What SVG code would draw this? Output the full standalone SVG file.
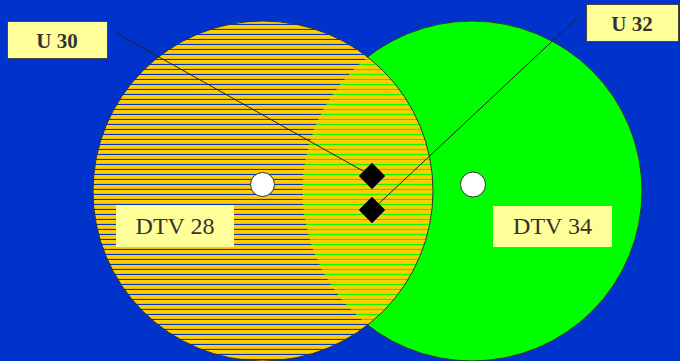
<svg xmlns="http://www.w3.org/2000/svg" width="680" height="361" viewBox="0 0 680 361">
<defs>
<pattern id="hatch" patternUnits="userSpaceOnUse" x="0" y="0" width="10" height="5">
<rect x="0" y="0" width="10" height="3.9" fill="#FFCC00"/>
</pattern>
</defs>
<style>
.lbl{fill:#FFFF99}
.lblb{fill:#FFFF99;stroke:#444;stroke-width:1}
.t{font-family:"Liberation Serif",serif;fill:#333;text-anchor:middle}
.dot{fill:#fff;stroke:#333;stroke-width:1}
.dia{fill:#000;stroke:#333;stroke-width:1}
.ln{stroke:#222;stroke-width:1;fill:none}
</style>
<rect width="680" height="361" fill="#0033CC"/>
<g id="dtv34-area">
<circle cx="472" cy="191" r="170" fill="#00FF00" stroke="#333" stroke-width="1"/>
</g>
<g id="dtv28-area">
<circle cx="263" cy="191" r="170" fill="url(#hatch)" stroke="#333" stroke-width="1"/>
</g>
<g id="dot28"><circle class="dot" cx="262.5" cy="184.5" r="12"/></g>
<g id="dot34"><circle class="dot" cx="473" cy="184.5" r="12.5"/></g>
<g id="connectors">
<line class="ln" x1="116" y1="33" x2="372" y2="176"/>
<line class="ln" x1="578" y1="17" x2="372" y2="210"/>
</g>
<g id="d1"><polygon class="dia" points="372,163 385,176 372,189 359,176"/></g>
<g id="d2"><polygon class="dia" points="372,197 385,210 372,223 359,210"/></g>
<g id="u30">
<rect class="lblb" x="7.5" y="21.5" width="100" height="37"/>
<text class="t" x="57" y="48" font-size="21" font-weight="bold">U 30</text>
</g>
<g id="u32">
<rect class="lblb" x="586.5" y="4.5" width="92" height="37"/>
<text class="t" x="632" y="31" font-size="21" font-weight="bold">U 32</text>
</g>
<g id="dtv28">
<rect class="lbl" x="116" y="205" width="118" height="42"/>
<text class="t" x="175" y="234" font-size="24">DTV 28</text>
</g>
<g id="dtv34">
<rect class="lbl" x="493" y="206" width="119" height="41"/>
<text class="t" x="552.5" y="234" font-size="24">DTV 34</text>
</g>
</svg>
